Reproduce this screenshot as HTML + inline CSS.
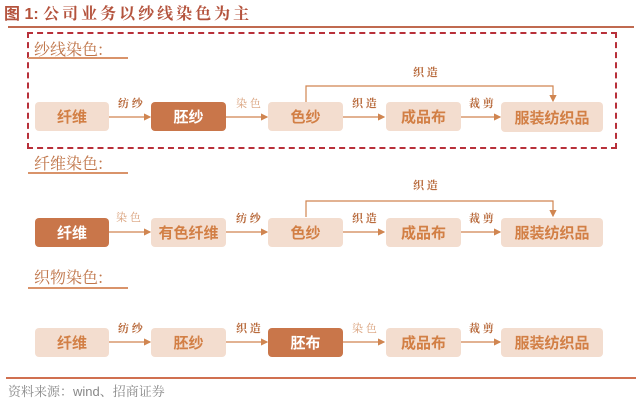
<!DOCTYPE html>
<html><head><meta charset="utf-8"><style>
body{margin:0;width:640px;height:401px;background:#fff;position:relative;overflow:hidden;font-family:"Liberation Sans","Noto Sans CJK SC",sans-serif}
.a{position:absolute}
.b{position:absolute;background:#f3ddcf;border-radius:4px;color:#d27f45;font-weight:bold;font-size:15px;display:flex;align-items:center;justify-content:center;height:29px}
.d{background:#c9764a;color:#fff}
.l{position:absolute;font-family:"Noto Serif CJK SC",serif;font-size:11px;font-weight:bold;color:#b86a3c}
.h{position:absolute;font-family:"Noto Serif CJK SC",serif;font-size:16px;color:#c0764a}
</style></head><body>
<div class="a" style="left:4px;top:0px;font-size:16px;color:#b4533d;font-weight:bold;font-family:'Liberation Sans','Noto Sans CJK SC',sans-serif">图 1: <span style="font-family:'Noto Serif CJK SC',serif;font-weight:bold;letter-spacing:3px">公司业务以纱线染色为主</span></div>
<div class="a" style="left:8px;top:26px;width:626px;height:1.5px;background:#c06a50"></div>
<div class="a" style="left:27px;top:32px;width:586px;height:113px;border:2px dashed #b8303a"></div>
<div class="h" style="left:34px;top:37px">纱线染色:</div>
<div class="a" style="left:28px;top:57px;width:100px;height:1.5px;background:#d9936a"></div>
<div class="h" style="left:34px;top:151px">纤维染色:</div>
<div class="a" style="left:28px;top:172px;width:100px;height:1.5px;background:#d9936a"></div>
<div class="h" style="left:34px;top:265px">织物染色:</div>
<div class="a" style="left:28px;top:287px;width:100px;height:1.5px;background:#d9936a"></div>

<svg class="a" style="left:0;top:0" width="640" height="401">
<defs><marker id="m" markerWidth="6" markerHeight="6" refX="5" refY="3" orient="auto"><path d="M0,0L6,3L0,6z" fill="#d08550"/></marker></defs>
<g stroke="#d08550" stroke-width="1.2" fill="none" marker-end="url(#m)">
<line x1="109" y1="117" x2="150" y2="117"/><line x1="226" y1="117" x2="267" y2="117"/><line x1="343" y1="117" x2="384" y2="117"/><line x1="461" y1="117" x2="500" y2="117"/>
<polyline points="306,102 306,86 553,86 553,101"/>
<line x1="109" y1="232" x2="150" y2="232"/><line x1="226" y1="232" x2="267" y2="232"/><line x1="343" y1="232" x2="384" y2="232"/><line x1="461" y1="232" x2="500" y2="232"/>
<polyline points="306,217 306,201 553,201 553,216"/>
<line x1="109" y1="342" x2="150" y2="342"/><line x1="226" y1="342" x2="267" y2="342"/><line x1="343" y1="342" x2="384" y2="342"/><line x1="461" y1="342" x2="500" y2="342"/>
</g></svg>

<div class="b" style="left:35px;top:102px;width:74px">纤维</div>
<div class="b d" style="left:151px;top:102px;width:75px">胚纱</div>
<div class="b" style="left:268px;top:102px;width:75px">色纱</div>
<div class="b" style="left:386px;top:102px;width:75px">成品布</div>
<div class="b" style="left:501px;top:102px;width:102px;height:30px">服装纺织品</div>
<div class="l" style="left:118px;top:95px">纺 纱</div>
<div class="l" style="left:236px;top:95px;color:#d9a07a;font-weight:normal">染 色</div>
<div class="l" style="left:352px;top:95px">织 造</div>
<div class="l" style="left:469px;top:95px">裁 剪</div>
<div class="l" style="left:413px;top:64px">织 造</div>

<div class="b d" style="left:35px;top:218px;width:74px">纤维</div>
<div class="b" style="left:151px;top:218px;width:75px">有色纤维</div>
<div class="b" style="left:268px;top:218px;width:75px">色纱</div>
<div class="b" style="left:386px;top:218px;width:75px">成品布</div>
<div class="b" style="left:501px;top:218px;width:102px">服装纺织品</div>
<div class="l" style="left:116px;top:209px;color:#d9a07a;font-weight:normal">染 色</div>
<div class="l" style="left:236px;top:210px">纺 纱</div>
<div class="l" style="left:352px;top:210px">织 造</div>
<div class="l" style="left:469px;top:210px">裁 剪</div>
<div class="l" style="left:413px;top:177px">织 造</div>

<div class="b" style="left:35px;top:328px;width:74px">纤维</div>
<div class="b" style="left:151px;top:328px;width:75px">胚纱</div>
<div class="b d" style="left:268px;top:328px;width:75px">胚布</div>
<div class="b" style="left:386px;top:328px;width:75px">成品布</div>
<div class="b" style="left:501px;top:328px;width:102px">服装纺织品</div>
<div class="l" style="left:118px;top:320px">纺 纱</div>
<div class="l" style="left:236px;top:320px">织 造</div>
<div class="l" style="left:352px;top:320px;color:#d9a07a;font-weight:normal">染 色</div>
<div class="l" style="left:469px;top:320px">裁 剪</div>

<div class="a" style="left:6px;top:377px;width:630px;height:1.5px;background:#d07050"></div>
<div class="a" style="left:8px;top:381px;font-size:13px;color:#888;font-family:'Liberation Sans','Noto Serif CJK SC',serif">资料来源：wind、招商证券</div>
</body></html>
